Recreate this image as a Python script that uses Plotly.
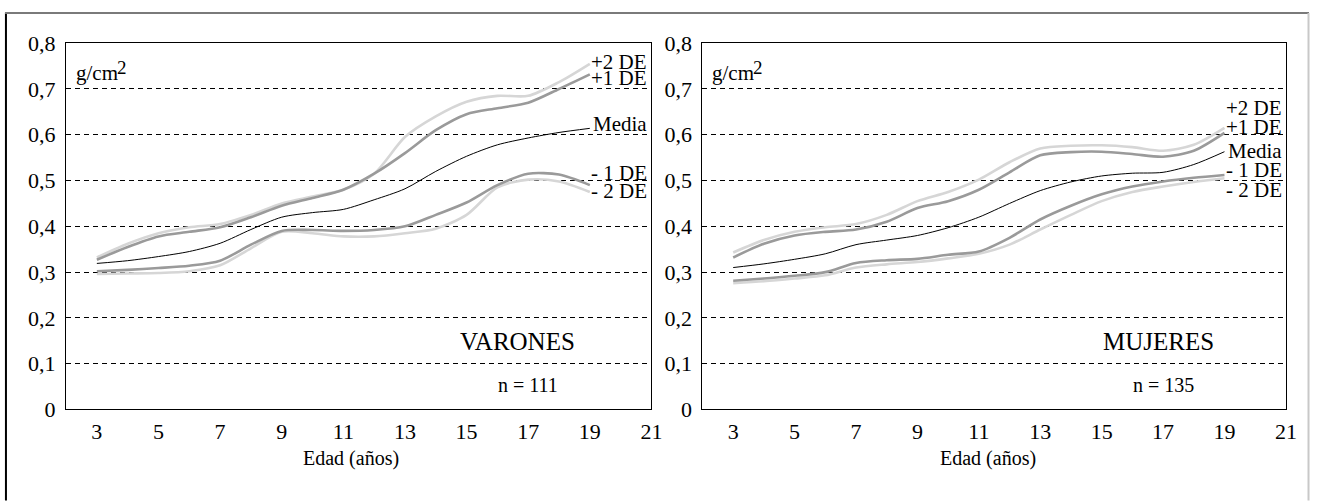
import plotly.graph_objects as go

# ---------------- data ----------------
ages = [3, 4, 5, 6, 7, 8, 9, 10, 11, 12, 13, 14, 15, 16, 17, 18, 19]

# VARONES (boys)
v_p2 = [0.332, 0.362, 0.385, 0.398, 0.405, 0.425, 0.450, 0.465, 0.480, 0.515, 0.595, 0.640, 0.672, 0.685, 0.685, 0.715, 0.755]
v_p1 = [0.327, 0.355, 0.378, 0.388, 0.398, 0.420, 0.445, 0.462, 0.480, 0.515, 0.560, 0.610, 0.645, 0.658, 0.670, 0.700, 0.732]
v_med = [0.319, 0.325, 0.334, 0.345, 0.363, 0.393, 0.420, 0.430, 0.437, 0.458, 0.482, 0.520, 0.553, 0.578, 0.593, 0.605, 0.614]
v_m1 = [0.302, 0.305, 0.309, 0.314, 0.325, 0.360, 0.390, 0.392, 0.390, 0.392, 0.400, 0.425, 0.452, 0.490, 0.515, 0.513, 0.490]
v_m2 = [0.296, 0.297, 0.298, 0.302, 0.315, 0.352, 0.388, 0.385, 0.378, 0.378, 0.385, 0.395, 0.425, 0.485, 0.502, 0.498, 0.475]

# MUJERES (girls)
m_p2 = [0.343, 0.370, 0.388, 0.398, 0.405, 0.425, 0.455, 0.475, 0.502, 0.540, 0.570, 0.576, 0.577, 0.573, 0.565, 0.578, 0.615]
m_p1 = [0.332, 0.362, 0.380, 0.388, 0.393, 0.410, 0.440, 0.455, 0.480, 0.518, 0.555, 0.562, 0.563, 0.558, 0.552, 0.565, 0.604]
m_med = [0.310, 0.318, 0.328, 0.340, 0.360, 0.370, 0.380, 0.397, 0.420, 0.450, 0.478, 0.497, 0.510, 0.516, 0.518, 0.535, 0.563]
m_m1 = [0.281, 0.286, 0.292, 0.300, 0.320, 0.326, 0.329, 0.338, 0.345, 0.375, 0.415, 0.445, 0.470, 0.487, 0.498, 0.506, 0.512]
m_m2 = [0.276, 0.280, 0.286, 0.293, 0.310, 0.317, 0.322, 0.330, 0.340, 0.360, 0.393, 0.425, 0.455, 0.475, 0.487, 0.497, 0.505]

x_ticks = [3, 5, 7, 9, 11, 13, 15, 17, 19, 21]
y_ticks = [0, 0.1, 0.2, 0.3, 0.4, 0.5, 0.6, 0.7, 0.8]
y_ticktext = ["0", "0,1", "0,2", "0,3", "0,4", "0,5", "0,6", "0,7", "0,8"]

series_labels = ["+2 DE", "+1 DE", "Media", "- 1 DE", "- 2 DE"]
v_label_y = [0.759, 0.725, 0.624, 0.517, 0.477]
m_label_y = [0.659, 0.617, 0.564, 0.523, 0.480]

panel_titles = ["VARONES", "MUJERES"]
panel_n = ["n = 111", "n = 135"]

# ---------------- styling ----------------
FONT = "Liberation Serif, Times New Roman, Times, DejaVu Serif, serif"
W, H = 1321, 504
c_sd2 = "#d6d6d6"
c_sd1 = "#9a9a9a"

# observed mapping between figure pixels and photographed pixels
KX, KY, OY = 0.991, 0.954, 12.0

def sx(t):
    return t / KX

def sy(t):
    return (t - OY) / KY

def px_x(p):
    return sx(p) / W

def px_y(p):
    return 1 - sy(p) / H

fig = go.Figure()

def add_panel(xa, ya, p2, p1, med, m1, m2):
    for vals, col, wd in [(p2, c_sd2, 2.6), (m2, c_sd2, 2.6),
                          (p1, c_sd1, 2.6), (m1, c_sd1, 2.6),
                          (med, "black", 1.0)]:
        fig.add_trace(go.Scatter(x=ages, y=vals, mode="lines",
                                 line=dict(color=col, width=wd, shape="spline", smoothing=0.8),
                                 xaxis=xa, yaxis=ya, showlegend=False, hoverinfo="skip"))

add_panel("x", "y", v_p2, v_p1, v_med, v_m1, v_m2)
add_panel("x2", "y2", m_p2, m_p1, m_med, m_m1, m_m2)

dom_y = [px_y(411), px_y(43.3)]
ax_common = dict(showline=True, linecolor="black", linewidth=1.3, mirror=True,
                 zeroline=False, ticks="", tickfont=dict(family=FONT, size=22, color="black"))
xcommon = dict(ax_common, range=[2, 21], tickvals=x_ticks, showgrid=False, ticklabelstandoff=2)
ycommon = dict(ax_common, range=[0, 0.8], tickvals=y_ticks, ticktext=y_ticktext,
               showgrid=True, gridcolor="black", gridwidth=1, griddash="5px,4px",
               ticklabelstandoff=5)

fig.update_layout(
    width=W, height=H,
    margin=dict(l=0, r=0, t=0, b=0),
    paper_bgcolor="white", plot_bgcolor="white",
    font=dict(family=FONT, color="black"),
    xaxis=dict(xcommon, domain=[px_x(66), px_x(651)], anchor="y"),
    yaxis=dict(ycommon, domain=dom_y, anchor="x"),
    xaxis2=dict(xcommon, domain=[px_x(702), px_x(1285)], anchor="y2"),
    yaxis2=dict(ycommon, domain=dom_y, anchor="x2"),
)

anns = []
for (xr, yr, lab_y, title, ntext, xcen, tx) in [("x", "y", v_label_y, panel_titles[0], panel_n[0], 351, 16.65),
                                                ("x2", "y2", m_label_y, panel_titles[1], panel_n[1], 987, 16.85)]:
    for txt, yy in zip(series_labels, lab_y):
        anns.append(dict(x=21, y=yy, xref=xr, yref=yr, text=txt, showarrow=False,
                         xanchor="right", yanchor="middle", xshift=-2,
                         font=dict(family=FONT, size=21, color="black")))
    anns.append(dict(x=2.25, y=0.735, xref=xr, yref=yr, text="g/cm", showarrow=False,
                     xanchor="left", yanchor="middle",
                     font=dict(family=FONT, size=21, color="black")))
    anns.append(dict(x=2.25, y=0.747, xref=xr, yref=yr, text="2", showarrow=False,
                     xanchor="left", yanchor="middle", xshift=41,
                     font=dict(family=FONT, size=19, color="black")))
    anns.append(dict(x=tx, y=0.148, xref=xr, yref=yr, text=title, showarrow=False,
                     xanchor="center", yanchor="middle",
                     font=dict(family=FONT, size=25, color="black")))
    anns.append(dict(x=17.0, y=0.053, xref=xr, yref=yr, text=ntext, showarrow=False,
                     xanchor="center", yanchor="middle",
                     font=dict(family=FONT, size=20, color="black")))
    anns.append(dict(x=px_x(xcen), y=px_y(460), xref="paper", yref="paper", text="Edad (años)",
                     showarrow=False, xanchor="center", yanchor="middle",
                     font=dict(family=FONT, size=20, color="black")))
fig.update_layout(annotations=anns)

# outer frame (kept inside the figure)
shapes = [
    dict(type="line", xref="paper", yref="paper", x0=6 / W, x1=6 / W, y0=1 - 1 / H, y1=-0.02,
         line=dict(color="black", width=2)),
    dict(type="line", xref="paper", yref="paper", x0=5 / W, x1=1320 / W, y0=1 - 1 / H, y1=1 - 1 / H,
         line=dict(color="#7a7a7a", width=2)),
    dict(type="line", xref="paper", yref="paper", x0=1319.5 / W, x1=1319.5 / W, y0=1 - 1 / H, y1=-0.02,
         line=dict(color="#c8c8c8", width=2)),
]
fig.update_layout(shapes=shapes)

fig.write_html("out.html", config={"displayModeBar": False},
               post_script="document.body.style.margin='0';document.body.style.overflow='hidden';")
